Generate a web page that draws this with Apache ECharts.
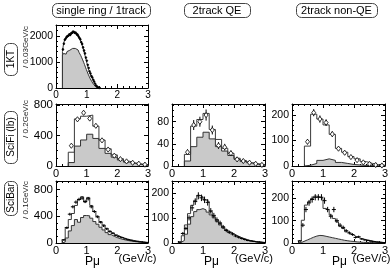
<!DOCTYPE html>
<html><head><meta charset="utf-8">
<script src="https://cdn.jsdelivr.net/npm/echarts@6/dist/echarts.min.js"></script>
<style>html,body{margin:0;padding:0;background:#fff}#c{width:392px;height:271px}</style>
</head><body><div id="c"></div>
<script>
// ---------- data ----------
const colTitles = ['single ring / 1track', '2track QE', '2track non-QE'];
const rowTitles = ['1KT', 'SciFi (lb)', 'SciBar'];
const rowUnits = ['/ 0.03GeV/c', '/ 0.2GeV/c', '/ 0.1GeV/c'];
const xTickLabels = ['0', '1', '2', '3'];

// 1KT single ring: bins of 0.03 GeV/c starting at 0.21
const kt1Start = 0.21, kt1Width = 0.03;
const kt1MC = [1400,1650,1800,1850,1900,1950,2000,2020,2050,2080,2110,2130,2140,2130,2110,2080,2040,1990,1930,1860,1780,1680,1570,1450,1320,1180,1040,900,760,650,560,470,400,330,250,170,110,60,30,12,4];
const kt1QE = [1250,1330,1330,1300,1350,1400,1420,1450,1470,1500,1520,1540,1530,1520,1500,1490,1460,1420,1370,1310,1240,1160,1080,990,900,800,710,620,530,450,370,300,240,180,130,85,50,25,10,3,0];
const kt1Data = [1480,1700,1850,1900,1960,1990,2010,2060,2040,2100,2120,2160,2150,2120,2120,2060,2050,1980,1920,1870,1760,1690,1560,1440,1330,1170,1050,890,770,640,560,460,410,320,250,170,100,60,25,10,3];
const kt1Err = [38,41,43,44,44,45,45,45,45,46,46,46,46,46,46,45,45,44,44,43,42,41,39,38,36,34,32,30,28,25,24,21,20,18,16,13,10,8,5,3,2];

// SciFi: bins of 0.2 GeV/c starting at 0.4
const sfStart = 0.4, sfWidth = 0.2;
const sf1MC = [180,615,650,665,520,340,225,145,95,62,40,26,16];
const sf1QE = [45,260,340,415,360,230,165,115,78,50,32,20,10];
const sf1Data = [265,610,695,620,525,335,215,135,90,60,42,30,18];
const sf1Err = [16,25,26,25,23,18,15,12,9,8,6,5,4];

const sf2MC = [21,72,84,95,66,48,32,23,14,10,6,4,2];
const sf2QE = [9,35,52,61,49,35,27,19,12,8,5,3,2];
const sf2Data = [25,74,80,92,65,37,34,23,12,9,6,4,2];
const sf2Err = [5,9,9,10,8,6,6,5,3.5,3,2.5,2,1.5];

const sf3MC = [78,203,184,161,124,69,54,37,28,17,10,5,3];
const sf3QE = [3,10,22,28,22,14,10,6,4,2,1,1,0];
const sf3Data = [95,209,184,170,125,68,52,35,23,14,8,4,2];
const sf3Err = [10,14,14,13,11,8,7,6,5,4,3,2,1.5];

// SciBar: bins of 0.1 GeV/c starting at 0.2
const sbStart = 0.2, sbWidth = 0.1;
const sb1MC = [50,220,350,440,560,650,690,610,680,560,470,400,320,270,220,180,150,120,98,80,64,52,41,32,25,18,13,9];
const sb1QE = [15,75,180,260,350,310,380,410,405,370,320,280,235,195,155,125,100,80,65,52,42,33,26,20,15,11,8,5];
const sb1Data = [45,230,430,540,610,650,670,620,660,540,470,390,310,255,210,170,145,115,95,80,62,50,40,30,24,17,12,8];
const sb1Err = [7,15,21,23,25,25,26,25,26,23,22,20,18,16,14,13,12,11,10,9,8,7,6,5.5,5,4,3.5,3];

const sb2MC = [5,29,72,117,150,170,190,185,172,165,125,105,92,78,64,53,44,37,30,24,19,15,11,8,6,4,3,2];
const sb2QE = [3,10,35,75,105,125,133,137,132,123,112,100,85,72,60,50,41,34,27,22,17,13,10,8,6,4,3,2];
const sb2Data = [4,38,58,100,140,165,188,180,172,162,128,110,92,80,64,50,43,36,28,23,18,14,10,8,6,4,3,2];
const sb2Err = [2,6,7,10,12,13,14,13,13,13,11,10,10,9,8,7,6.5,6,5,5,4,4,3,3,2.5,2,1.7,1.4];

const sb3MC = [8,102,170,185,200,210,207,200,155,147,125,110,95,75,65,50,42,35,27,22,18,15,12,9,6,5,3,2];
const sb3QE = [2,8,14,20,26,31,34,33,30,27,24,21,18,15,12,10,8,7,5,4,3,2.5,2,1.5,1,1,0.5,0.5];
const sb3Data = [10,80,150,180,195,205,205,205,190,150,120,150,100,80,70,55,45,38,25,28,18,14,11,8,6,4,3,2];
const sb3Err = [3,9,12,13,14,14,14,14,14,12,11,12,10,9,8,7,7,6,5,5,4,4,3,3,2.5,2,1.7,1.4];

// ---------- panels ----------
const FONT = '"Liberation Sans", Arial, Helvetica, sans-serif';
const panels = [
  {start:kt1Start,w:kt1Width,mc:kt1MC,qe:kt1QE,data:kt1Data,err:kt1Err,ymax:2420,yint:1000,ysplit:5,mk:'dot',
   left:56,top:25,width:92,height:63,yFont:10.5,xFont:10},
  {start:sfStart,w:sfWidth,mc:sf1MC,qe:sf1QE,data:sf1Data,err:sf1Err,ymax:810,yint:400,ysplit:4,mk:'diamond',
   left:56,top:104,width:92,height:62,yFont:11.5,xFont:11},
  {start:sfStart,w:sfWidth,mc:sf2MC,qe:sf2QE,data:sf2Data,err:sf2Err,ymax:112,yint:40,ysplit:4,mk:'diamond',
   left:172,top:104,width:93,height:62,yFont:10.5,xFont:11},
  {start:sfStart,w:sfWidth,mc:sf3MC,qe:sf3QE,data:sf3Data,err:sf3Err,ymax:243,yint:100,ysplit:5,mk:'diamond',
   left:292,top:104,width:93,height:62,yFont:10.5,xFont:11},
  {start:sbStart,w:sbWidth,mc:sb1MC,qe:sb1QE,data:sb1Data,err:sb1Err,ymax:925,yint:400,ysplit:4,mk:'cross',
   left:56,top:181,width:92,height:62,yFont:11.5,xFont:11},
  {start:sbStart,w:sbWidth,mc:sb2MC,qe:sb2QE,data:sb2Data,err:sb2Err,ymax:247,yint:100,ysplit:5,mk:'cross',
   left:172,top:181,width:93,height:62,yFont:10.5,xFont:11},
  {start:sbStart,w:sbWidth,mc:sb3MC,qe:sb3QE,data:sb3Data,err:sb3Err,ymax:278,yint:100,ysplit:5,mk:'cross',
   left:292,top:181,width:93,height:62,yFont:10.5,xFont:11}
];

function steps(start, w, vals) {
  const pts = [[start, 0]];
  vals.forEach((v, i) => { pts.push([start + i * w, v]); pts.push([start + (i + 1) * w, v]); });
  pts.push([start + vals.length * w, 0]);
  return pts;
}

function makeRender(mk) {
  return function (params, api) {
    const x = api.value(0), y = api.value(1), e = api.value(2);
    const c = api.coord([x, y]);
    const lo = api.coord([x, Math.max(0, y - e)]);
    const hi = api.coord([x, y + e]);
    const ch = [{type:'line', shape:{x1:c[0], y1:lo[1], x2:c[0], y2:hi[1]}, style:{stroke:'#000', lineWidth:1}}];
    if (mk === 'diamond') {
      ch.push({type:'polygon', shape:{points:[[c[0], c[1]-2.6],[c[0]+2,c[1]],[c[0],c[1]+2.6],[c[0]-2,c[1]]]},
               style:{fill:'#fff', stroke:'#000', lineWidth:0.8}});
    } else if (mk === 'dot') {
      ch.push({type:'circle', shape:{cx:c[0], cy:c[1], r:0.9}, style:{fill:'#000', stroke:'#000', lineWidth:0.6}});
    } else {
      ch.push({type:'line', shape:{x1:c[0]-2, y1:c[1], x2:c[0]+2, y2:c[1]}, style:{stroke:'#000', lineWidth:1}});
    }
    return {type:'group', children:ch};
  };
}

const grid = [], xAxis = [], yAxis = [], series = [];
panels.forEach((p, i) => {
  grid.push({left:p.left, top:p.top, width:p.width, height:p.height, containLabel:false, outerBoundsMode:'none'});
  ['bottom','top'].forEach((pos) => {
    xAxis.push({
      gridIndex:i, type:'value', position:pos, min:0, max:3, interval:1,
      axisLine:{show:true, onZero:false, lineStyle:{color:'#000', width:1}},
      axisTick:{show:true, inside:true, length:4, lineStyle:{color:'#000'}},
      minorTick:{show:true, splitNumber:5, length:2, lineStyle:{color:'#000'}},
      splitLine:{show:false},
      axisLabel:{show:pos==='bottom', fontSize:p.xFont, color:'#000', margin:2, fontFamily:FONT,
                 formatter:(v) => xTickLabels[Math.round(v)] || ''}
    });
  });
  const notMult = Math.abs(p.ymax / p.yint - Math.round(p.ymax / p.yint)) > 1e-6;
  ['left','right'].forEach((pos) => {
    yAxis.push({
      gridIndex:i, type:'value', position:pos, min:0, max:p.ymax, interval:p.yint,
      axisLine:{show:true, onZero:false, lineStyle:{color:'#000', width:1}},
      axisTick:{show:true, inside:true, length:4, lineStyle:{color:'#000'}},
      minorTick:{show:true, splitNumber:p.ysplit, length:2, lineStyle:{color:'#000'}},
      splitLine:{show:false},
      axisLabel:{show:pos==='left', fontSize:p.yFont, color:'#000', margin:3, fontFamily:FONT,
                 showMaxLabel:!notMult, formatter:(v) => String(v)}
    });
  });
  const xi = 2 * i, yi = 2 * i;
  series.push({
    type:'line', xAxisIndex:xi, yAxisIndex:yi, data:steps(p.start, p.w, p.qe), showSymbol:false, symbol:'none',
    lineStyle:{color:'#333', width:1}, areaStyle:{color:'#c9c9c9', opacity:1, origin:'start'}, animation:false, z:2
  });
  series.push({
    type:'line', xAxisIndex:xi, yAxisIndex:yi, data:steps(p.start, p.w, p.mc), showSymbol:false, symbol:'none',
    lineStyle:{color:'#3a3a3a', width:1}, animation:false, z:3
  });
  series.push({
    type:'custom', xAxisIndex:xi, yAxisIndex:yi, renderItem:makeRender(p.mk), animation:false, z:4,
    encode:{x:0, y:1},
    data:p.data.map((v, k) => [p.start + (k + 0.5) * p.w, v, p.err[k]])
  });
});

// ---------- text decorations ----------
const graphic = [];
const headers = [
  {t:colTitles[0], x:52, w:98, cx:101},
  {t:colTitles[1], x:184, w:66, cx:217},
  {t:colTitles[2], x:296, w:81, cx:336.5}
];
headers.forEach((h) => {
  graphic.push({type:'rect', shape:{x:h.x + 0.5, y:3.5, width:h.w, height:14, r:5},
                style:{fill:'#fff', stroke:'#444', lineWidth:1}});
  graphic.push({type:'text', x:h.cx, y:10.5,
                style:{text:h.t, align:'center', verticalAlign:'middle', font:'11px ' + FONT, fill:'#000'}});
});
const rows = [
  {t:rowTitles[0], y:43, h:32, cy:59, u:rowUnits[0], uy:47},
  {t:rowTitles[1], y:111, h:52, cy:137, u:rowUnits[1], uy:119},
  {t:rowTitles[2], y:181, h:34, cy:198, u:rowUnits[2], uy:200}
];
rows.forEach((r) => {
  graphic.push({type:'rect', shape:{x:4.5, y:r.y + 0.5, width:13, height:r.h, r:5},
                style:{fill:'#fff', stroke:'#444', lineWidth:1}});
  graphic.push({type:'text', x:11.5, y:r.cy, rotation:Math.PI / 2,
                style:{text:r.t, align:'center', verticalAlign:'middle', font:'10px ' + FONT, fill:'#000'}});
  graphic.push({type:'text', x:26, y:r.uy, rotation:Math.PI / 2,
                style:{text:r.u, align:'center', verticalAlign:'middle', font:'8px ' + FONT, fill:'#222'}});
});
[[92.5, 137.5], [211.5, 254], [339.5, 371.5]].forEach((c) => {
  graphic.push({type:'text', x:c[0], y:262,
                style:{text:'Pμ', align:'center', verticalAlign:'middle', font:'12px ' + FONT, fill:'#000'}});
  graphic.push({type:'text', x:c[1], y:259,
                style:{text:'(GeV/c)', align:'center', verticalAlign:'middle', font:'11px ' + FONT, fill:'#000'}});
});

const chart = echarts.init(document.getElementById('c'), null, {renderer:'canvas'});
chart.setOption({
  animation:false,
  backgroundColor:'#fff',
  grid, xAxis, yAxis, series, graphic
});
</script></body></html>
